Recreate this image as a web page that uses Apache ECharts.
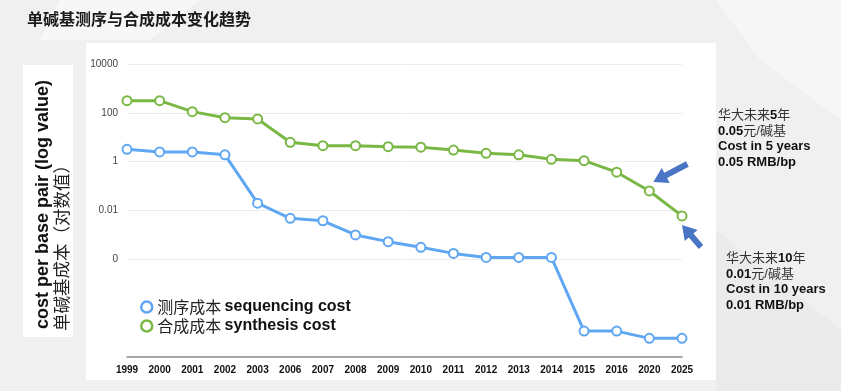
<!DOCTYPE html>
<html><head><meta charset="utf-8">
<script src="https://cdn.jsdelivr.net/npm/echarts@6/dist/echarts.min.js"></script>
<style>html,body{margin:0;padding:0;background:#f0f0f0}#c{width:841px;height:391px}</style>
</head><body><div id="c"></div>
<script>
const years = ['1999','2000','2001','2002','2003','2006','2007','2008','2009','2010','2011','2012','2013','2014','2015','2016','2020','2025'];
const sequencingCost = [3.2,2.5,2.5,1.9,0.020,0.0048,0.0038,0.001,0.00053,0.00031,0.000175,0.00012,0.00012,0.00012,1.15e-7,1.15e-7,5.8e-8,5.8e-8];
const synthesisCost = [316,316,112,63,56,6.2,4.5,4.5,4.1,3.9,3.0,2.2,1.9,1.25,1.1,0.37,0.063,0.006];
const yTickLabels = {'4':'10000','2':'100','0':'1','-2':'0.01','-4':'0'};
const seriesNames = ['测序成本 sequencing cost','合成成本 synthesis cost'];
const BLUE = '#60a7f3', GREEN = '#7ab845', ARROW = '#4a74c4';

const chart = echarts.init(document.getElementById('c'), null, {renderer:'canvas'});
function labelFor(v){
  const e = Math.round(Math.log10(v));
  return yTickLabels[String(e)] || '';
}
const legendFmt = n => { const p = n.split(' '); return '{a|'+p[0]+'} {b|'+p.slice(1).join(' ')+'}'; };
const sans = 'Liberation Sans, Arial, Noto Sans CJK SC';
const option = {
  backgroundColor:'#f0f0f0',
  animation:false,
  grid:{left:127, right:159, top:64, bottom:34},
  xAxis:{type:'category', data:years, boundaryGap:false,
    axisLine:{lineStyle:{color:'#8a8a8a', width:1.5}}, axisTick:{show:false},
    axisLabel:{color:'#111', fontWeight:'bold', fontSize:10, margin:8, fontFamily:sans}},
  yAxis:{type:'log', logBase:100, min:1e-8, max:1e4, splitNumber:6,
    axisLine:{show:false}, axisTick:{show:false},
    axisLabel:{color:'#444', fontSize:10, margin:9, fontFamily:sans, formatter:labelFor},
    splitLine:{show:true, lineStyle:{color:['rgba(0,0,0,0)','rgba(0,0,0,0)','#ececec','#ececec','#ececec','#ececec','#ececec'], width:1}}},
  legend:{orient:'vertical', left:135, top:294, itemGap:3, itemWidth:11, itemHeight:11, icon:'circle',
    formatter:legendFmt,
    textStyle:{rich:{a:{fontSize:16, color:'#222', fontFamily:'Noto Sans CJK SC', lineHeight:19}, b:{fontSize:16, fontWeight:'bold', color:'#111', fontFamily:sans, lineHeight:19}}},
    data:[{name:seriesNames[0], itemStyle:{color:'#fff', borderColor:BLUE, borderWidth:2.5}},
          {name:seriesNames[1], itemStyle:{color:'#fff', borderColor:GREEN, borderWidth:2.5}}]},
  series:[
    {name:seriesNames[0], type:'line', data:sequencingCost, symbol:'emptyCircle', symbolSize:9,
     lineStyle:{color:BLUE, width:3}, itemStyle:{color:BLUE, borderWidth:2.5}},
    {name:seriesNames[1], type:'line', data:synthesisCost, symbol:'emptyCircle', symbolSize:9,
     lineStyle:{color:GREEN, width:3}, itemStyle:{color:GREEN, borderWidth:2.5}}
  ]
};
chart.setOption(option);

function arrowPoly(tail, tip, shaftW, headW, headL){
  const dx = tip[0]-tail[0], dy = tip[1]-tail[1], L = Math.hypot(dx,dy);
  const ux = dx/L, uy = dy/L, nx = -uy, ny = ux;
  const bx = tip[0]-ux*headL, by = tip[1]-uy*headL;
  return [[tail[0]+nx*shaftW/2, tail[1]+ny*shaftW/2],[bx+nx*shaftW/2, by+ny*shaftW/2],[bx+nx*headW/2, by+ny*headW/2],
          tip,[bx-nx*headW/2, by-ny*headW/2],[bx-nx*shaftW/2, by-ny*shaftW/2],[tail[0]-nx*shaftW/2, tail[1]-ny*shaftW/2]];
}
const p2020 = chart.convertToPixel({seriesIndex:1}, [16, synthesisCost[16]]);
const p2025 = chart.convertToPixel({seriesIndex:1}, [17, synthesisCost[17]]);
const a1 = arrowPoly([p2020[0]+38, p2020[1]-27],[p2020[0]+4, p2020[1]-9], 6, 17, 14);
const a2 = arrowPoly([p2025[0]+19, p2025[1]+31],[p2025[0], p2025[1]+9], 6, 17, 14);

function annot(x, y, text){
  return {type:'text', left:x, top:y, z:10,
    style:{text:text, fontSize:13, fill:'#111', fontFamily:sans, lineHeight:15.5,
      rich:{n:{fontSize:13, fontFamily:sans, fontWeight:'normal', fill:'#333', lineHeight:15.5},
            b:{fontSize:13, fontWeight:'bold', fontFamily:sans, fill:'#111', lineHeight:15.5}}}};
}
chart.setOption({graphic:[
  {type:'rect', z:-10, shape:{x:86,y:43,width:630,height:337}, style:{fill:'#ffffff'}},
  {type:'rect', z:-10, shape:{x:23,y:65,width:50,height:272}, style:{fill:'#ffffff'}},
  {type:'polygon', z:-11, shape:{points:[[60,0],[200,0],[150,40],[40,40]]}, style:{fill:'#f7f7f7'}},
  {type:'polygon', z:-11, shape:{points:[[716,0],[841,0],[841,120],[760,60]]}, style:{fill:'#f6f6f6'}},
  {type:'polygon', z:-11, shape:{points:[[716,230],[841,330],[841,391],[716,391]]}, style:{fill:'#ebebeb'}},
  {type:'text', left:27, top:11, style:{text:'单碱基测序与合成成本变化趋势', fontSize:16, fontWeight:'bold', fill:'#1a1a1a', fontFamily:'Noto Sans CJK SC'}},
  {type:'text', x:43, y:329, rotation:Math.PI/2, style:{text:'cost per base pair (log value)', fontSize:18, fontWeight:'bold', fill:'#111', fontFamily:sans, textAlign:'left', textVerticalAlign:'middle'}},
  {type:'text', x:61, y:331, rotation:Math.PI/2, style:{text:'单碱基成本（对数值）', fontSize:17.5, fill:'#222', fontFamily:'Noto Sans CJK SC', textAlign:'left', textVerticalAlign:'middle'}},
  {type:'polygon', z:20, shape:{points:a1}, style:{fill:ARROW}},
  {type:'polygon', z:20, shape:{points:a2}, style:{fill:ARROW}},
  annot(718, 108, '{n|华大未来}{b|5}{n|年}\n{b|0.05}{n|元/碱基}\n{b|Cost in 5 years}\n{b|0.05 RMB/bp}'),
  annot(726, 251, '{n|华大未来}{b|10}{n|年}\n{b|0.01}{n|元/碱基}\n{b|Cost in 10 years}\n{b|0.01 RMB/bp}')
]});
</script></body></html>
